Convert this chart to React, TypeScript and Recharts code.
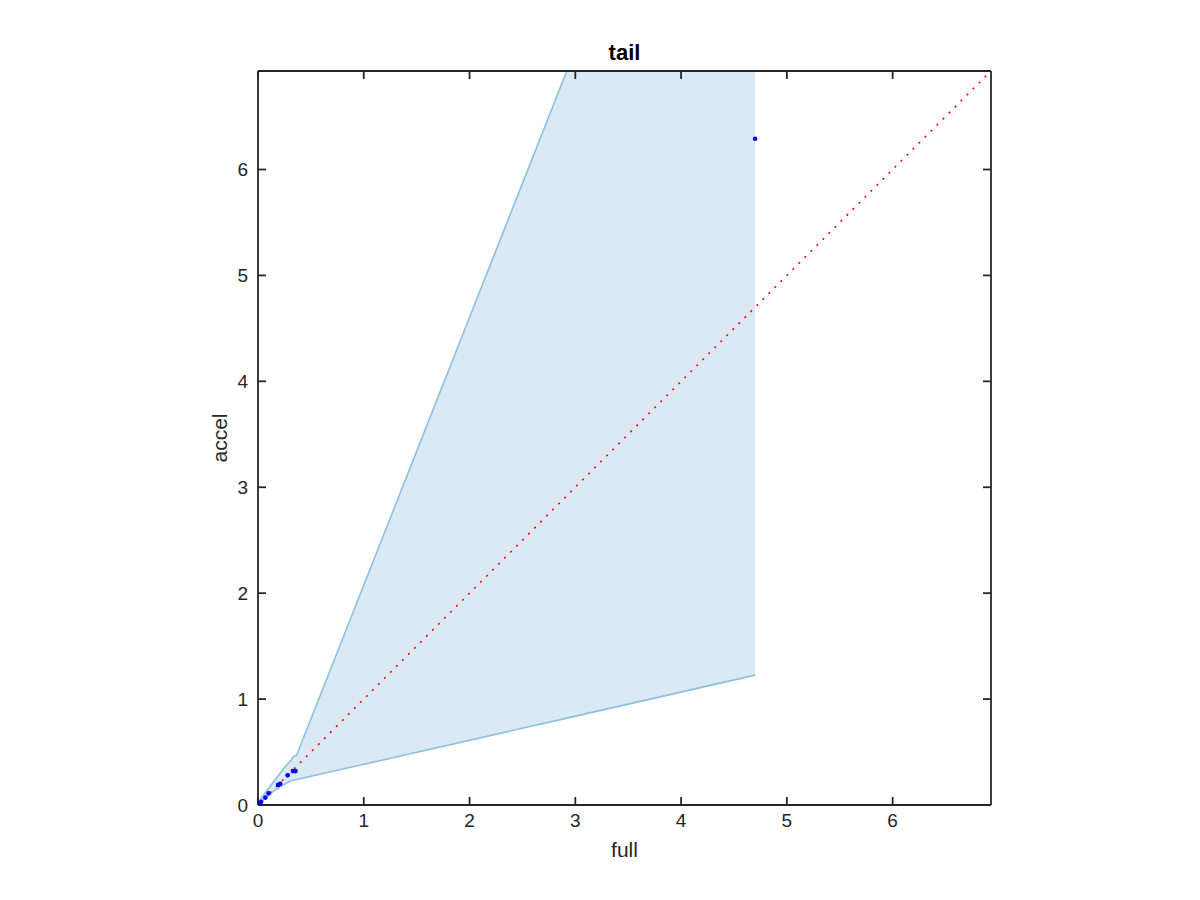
import React from 'react';
import { ComposedChart, Area, Line, Scatter, XAxis, YAxis, Label } from 'recharts';

// axis range and ticks (same on both axes)
const AXIS_MAX = 6.93;
const tickValues = [0, 1, 2, 3, 4, 5, 6];

// shaded band: x, lower edge, upper edge (upper runs off the top and is clipped)
const bandX = [0, 0.02, 0.16, 0.24, 0.318, 0.333, 0.365, 2.92, 4.7];
const bandLow = [0, 0.03, 0.14, 0.19, 0.23, 0.233, 0.24, 0.82, 1.226];
const bandHigh = [0, 0.05, 0.236, 0.34, 0.43, 0.456, 0.47, 6.93, 11.43];

// blue points
const pointX = [0, 0.01, 0.03, 0.07, 0.1, 0.19, 0.21, 0.28, 0.33, 0.355, 4.7];
const pointY = [0, 0.015, 0.03, 0.07, 0.11, 0.19, 0.2, 0.28, 0.32, 0.32, 6.29];

// y = x reference
const diagX = [0, AXIS_MAX];

const bandData = bandX.map((x, i) => ({ x, range: [bandLow[i], bandHigh[i]] }));
const pointData = pointX.map((x, i) => ({ x, y: pointY[i] }));
const diagData = diagX.map((x) => ({ x, y: x }));

const FONT = '"Liberation Sans", Arial, Helvetica, sans-serif';
const AXIS_COLOR = '#262626';
const tickStyle = { fontSize: 19, fill: AXIS_COLOR, fontFamily: FONT };
const blank = () => '';

const Dot = (props: any) => <circle cx={props.cx} cy={props.cy} r={2.3} fill="#0000ff" />;

export default function App() {
  return (
    <div style={{ position: 'absolute', left: 0, top: 0, background: '#fff' }}>
      <ComposedChart
        width={1200}
        height={900}
        margin={{ top: 70, right: 208, bottom: 65, left: 218 }}
      >
        <XAxis
          dataKey="x"
          type="number"
          domain={[0, AXIS_MAX]}
          ticks={tickValues}
          allowDataOverflow
          height={30}
          stroke={AXIS_COLOR}
          strokeWidth={1.8}
          tickSize={-8}
          tickMargin={17}
          tick={tickStyle}
        >
          <Label
            content={({ viewBox }: any) => (
              <text
                x={viewBox.x + viewBox.width / 2}
                y={849}
                textAnchor="middle"
                dominantBaseline="central"
                style={{ fontSize: 21, fill: AXIS_COLOR, fontFamily: FONT }}
              >
                full
              </text>
            )}
          />
        </XAxis>
        <XAxis
          xAxisId="top"
          dataKey="x"
          orientation="top"
          type="number"
          domain={[0, AXIS_MAX]}
          ticks={tickValues}
          allowDataOverflow
          height={1}
          stroke={AXIS_COLOR}
          strokeWidth={1.8}
          tickSize={-8}
          tickFormatter={blank}
        >
          <Label
            content={({ viewBox }: any) => (
              <text
                x={viewBox.x + viewBox.width / 2}
                y={52}
                textAnchor="middle"
                dominantBaseline="central"
                style={{ fontSize: 22, fontWeight: 'bold', fill: '#000', fontFamily: FONT }}
              >
                tail
              </text>
            )}
          />
        </XAxis>
        <YAxis
          dataKey="y"
          type="number"
          domain={[0, AXIS_MAX]}
          ticks={tickValues}
          allowDataOverflow
          width={40}
          stroke={AXIS_COLOR}
          strokeWidth={1.8}
          tickSize={-8}
          tickMargin={18}
          tick={tickStyle}
        >
          <Label
            content={({ viewBox }: any) => {
              const cx = viewBox.x + viewBox.width - 39;
              const cy = viewBox.y + viewBox.height / 2;
              return (
                <text
                  x={cx}
                  y={cy}
                  transform={`rotate(-90 ${cx} ${cy})`}
                  textAnchor="middle"
                  dominantBaseline="central"
                  style={{ fontSize: 21, fill: AXIS_COLOR, fontFamily: FONT }}
                >
                  accel
                </text>
              );
            }}
          />
        </YAxis>
        <YAxis
          yAxisId="right"
          dataKey="y"
          orientation="right"
          type="number"
          domain={[0, AXIS_MAX]}
          ticks={tickValues}
          allowDataOverflow
          width={1}
          stroke={AXIS_COLOR}
          strokeWidth={1.8}
          tickSize={-8}
          tickFormatter={blank}
        />

        <Area
          data={bandData}
          dataKey="range"
          type="linear"
          fill="#dae9f4"
          fillOpacity={1}
          stroke="#8cc0e2"
          strokeWidth={1.6}
          dot={false}
          activeDot={false}
          isAnimationActive={false}
        />
        <Line
          data={diagData}
          dataKey="y"
          xAxisId="top"
          yAxisId="right"
          type="linear"
          stroke="#ff0000"
          strokeWidth={1.6}
          strokeDasharray="2 6.5"
          dot={false}
          activeDot={false}
          isAnimationActive={false}
        />
        <Scatter data={pointData} dataKey="y" shape={Dot} isAnimationActive={false} />
      </ComposedChart>
    </div>
  );
}
